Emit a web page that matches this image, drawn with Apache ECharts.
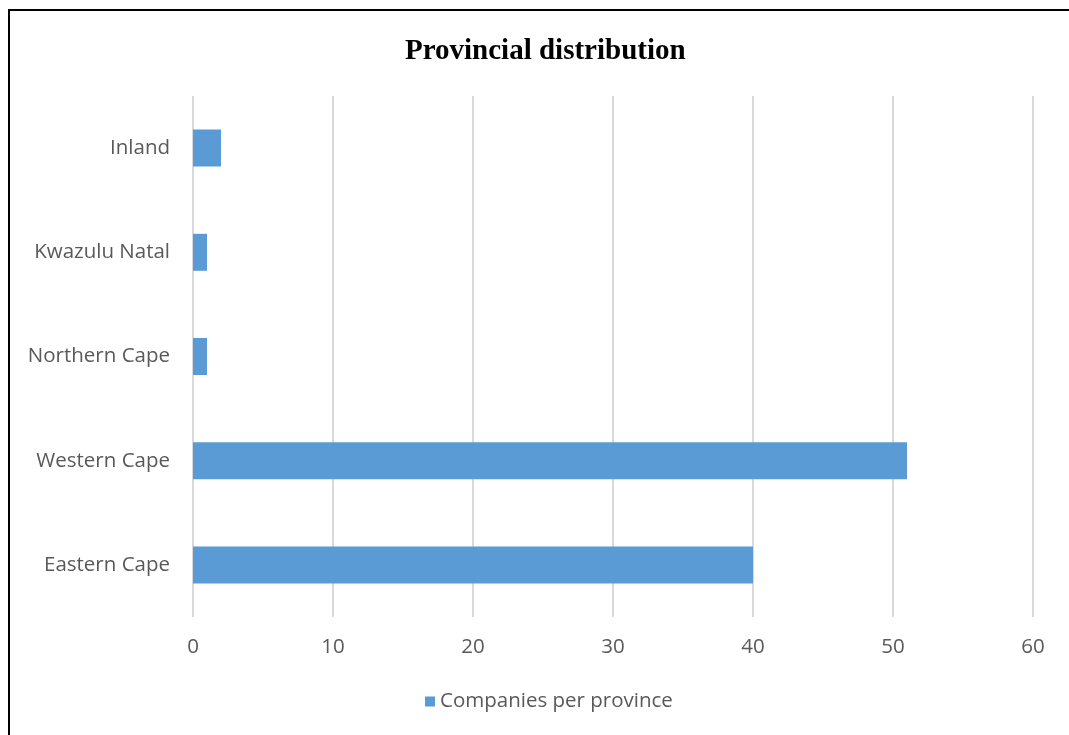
<!DOCTYPE html>
<html>
<head>
<meta charset="utf-8">
<script src="https://cdn.jsdelivr.net/npm/echarts@6/dist/echarts.min.js"></script>
<style>
  html, body { margin: 0; padding: 0; background: #fff; }
  #plot { width: 1069px; height: 735px; }
</style>
</head>
<body>
<div id="plot"></div>
<script>
var provinces = ['Eastern Cape', 'Western Cape', 'Northern Cape', 'Kwazulu Natal', 'Inland'];
var companies = [40, 51, 1, 1, 2];
var xTicks = [0, 10, 20, 30, 40, 50, 60];

var myChart = echarts.init(document.getElementById('plot'));

var labelFont = {
  fontFamily: 'Open Sans',
  fontSize: 20.5,
  color: '#595959'
};

var option = {
  animation: false,
  backgroundColor: '#fff',
  title: {
    text: 'Provincial distribution',
    left: 400,
    top: 32,
    textStyle: {
      fontFamily: 'Liberation Serif',
      fontWeight: 'bold',
      fontSize: 29,
      color: '#000'
    }
  },
  // 外框
  graphic: [{
    type: 'rect',
    shape: { x: 9, y: 10, width: 1200, height: 900 },
    style: { fill: 'none', stroke: '#000', lineWidth: 2 },
    silent: true
  }],
  grid: {
    left: 193,
    right: 36,
    top: 96,
    bottom: 118,
    containLabel: false
  },
  xAxis: {
    type: 'value',
    min: xTicks[0],
    max: xTicks[xTicks.length - 1],
    interval: 10,
    axisLine: { show: false },
    axisTick: { show: false },
    axisLabel: Object.assign({ margin: 20 }, labelFont),
    splitLine: { lineStyle: { color: '#d9d9d9', width: 2 } }
  },
  yAxis: {
    type: 'category',
    data: provinces,
    axisLine: { show: false },
    axisTick: { show: false },
    axisLabel: Object.assign({ margin: 23 }, labelFont),
    splitLine: { show: false }
  },
  legend: {
    bottom: 18,
    left: 420,
    itemWidth: 10,
    itemHeight: 10,
    itemGap: 10,
    icon: 'rect',
    textStyle: labelFont,
    data: ['Companies per province']
  },
  series: [{
    name: 'Companies per province',
    type: 'bar',
    data: companies,
    barWidth: 37,
    itemStyle: { color: '#5b9bd5' }
  }]
};

myChart.setOption(option);
</script>
</body>
</html>
